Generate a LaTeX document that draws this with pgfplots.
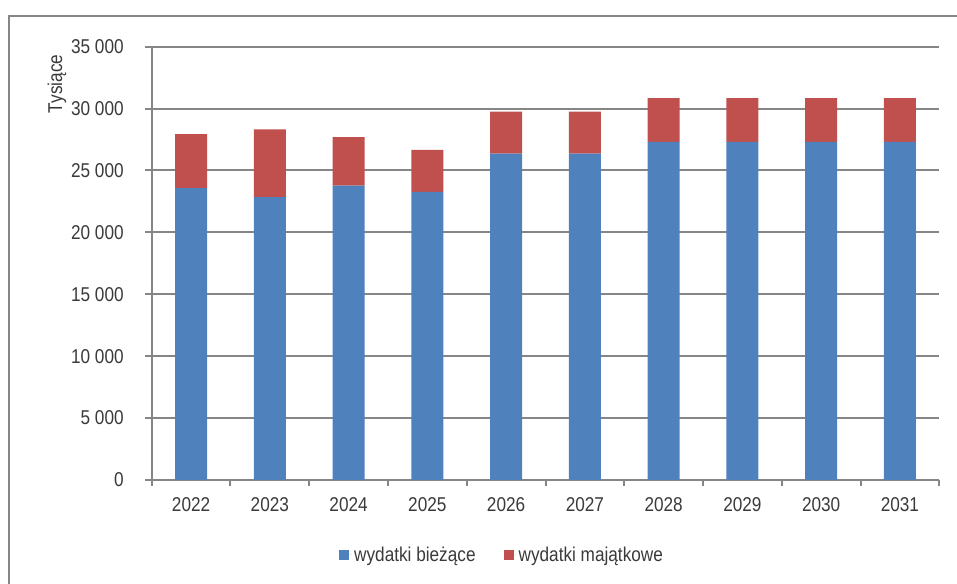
\documentclass[border=0pt]{standalone}
\usepackage{fontspec}
\setmainfont{Liberation Sans}[FakeStretch=0.86]
\usepackage{pgfplots}
\pgfplotsset{compat=1.18}
\definecolor{barblue}{HTML}{4F81BD}
\definecolor{barred}{HTML}{C0504D}
\definecolor{linegray}{HTML}{868686}
\definecolor{txt}{HTML}{3A3A3A}
\begin{document}
\begin{tikzpicture}[font=\fontsize{20}{23}\selectfont, text=txt]
\useasboundingbox (0,0) rectangle (957pt,583pt);
\draw[linegray, line width=2pt] (9pt,-10pt) -- (9pt,567pt) -- (970pt,567pt);
\begin{axis}[
  at={(151.7pt,103pt)}, anchor=south west,
  scale only axis, width=787.6pt, height=433.3pt,
  ybar stacked, bar width=32pt,
  xmin=-0.5, xmax=9.5, ymin=0, ymax=35000,
  enlarge x limits=false, enlarge y limits=false,
  axis lines*=left,
  axis line style={linegray, line width=2pt},
  xtick={0,...,9},
  xticklabels={2022,2023,2024,2025,2026,2027,2028,2029,2030,2031},
  major x tick style={draw=none},
  minor xtick={-0.5,0.5,...,9.5},
  minor tick length=6pt,
  xtick align=outside,
  minor x tick style={linegray, line width=2pt},
  ytick={0,5000,...,35000},
  ytick align=center,
  major tick length=13pt,
  y tick style={linegray, line width=2pt},
  ymajorgrids,
  major grid style={linegray, line width=2pt},
  /pgf/number format/assume math mode=true,
  /pgf/number format/1000 sep={\ },
  scaled y ticks=false,
  yticklabel style={xshift=-18pt, text=txt},
  xticklabel style={yshift=-1pt, text=txt},
  ylabel={Tysiące},
  ylabel style={at={(rel axis cs:-0.1202,0.914)}, anchor=center, text=txt},
  legend columns=2,
  legend style={at={(0.2378,-0.173)}, anchor=west, draw=none, fill=none,
    inner xsep=0pt, inner ysep=0pt,
    /tikz/every even column/.append style={column sep=26pt},
    text=txt},
  legend cell align=left,
  legend image code/.code={\fill[#1] (0pt,-5pt) rectangle (10pt,5pt); \path (0pt,0pt) -- (13pt,0pt);},
]
\addplot[fill=barblue, draw=none] coordinates {
 (0,23570) (1,22840) (2,23780) (3,23270) (4,26370) (5,26370) (6,27310) (7,27310) (8,27310) (9,27310)};
\addplot[fill=barred, draw=none] coordinates {
 (0,4360) (1,5490) (2,3910) (3,3390) (4,3390) (5,3390) (6,3530) (7,3530) (8,3530) (9,3530)};
\legend{wydatki bieżące, wydatki majątkowe}
\end{axis}
\end{tikzpicture}
\end{document}
